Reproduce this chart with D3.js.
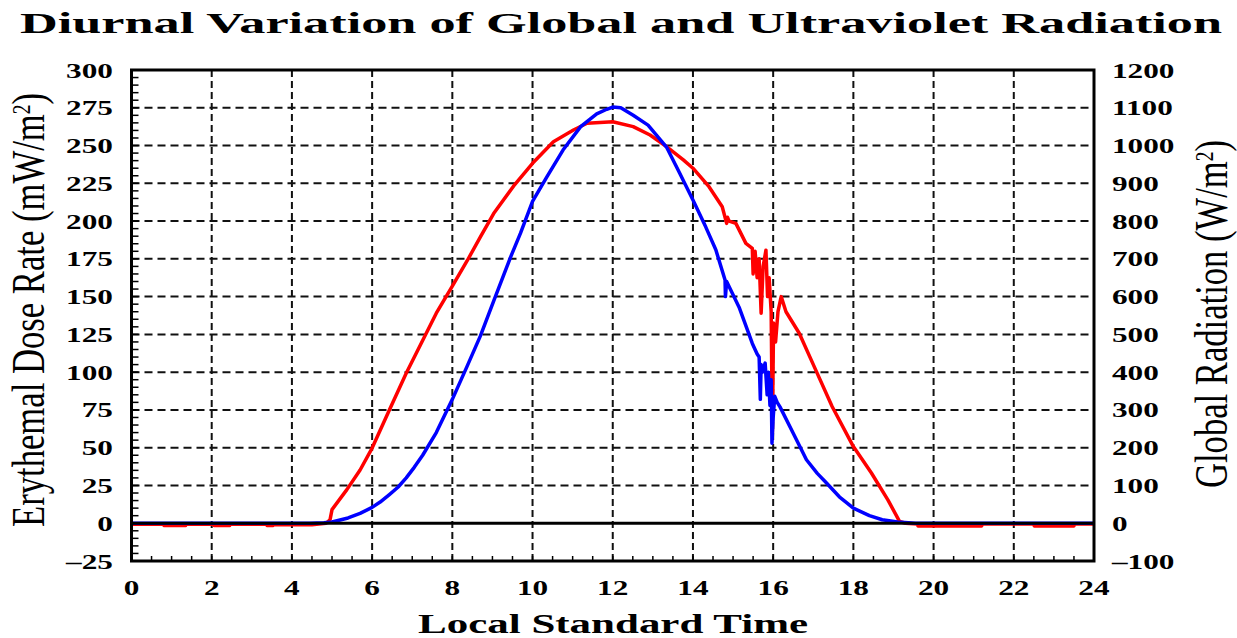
<!DOCTYPE html>
<html>
<head>
<meta charset="utf-8">
<script src="https://cdn.jsdelivr.net/npm/d3@7"></script>
<style>
body { margin: 0; background: #fff; }
text { font-family: "Liberation Serif", "Times New Roman", serif; fill: #000; }
</style>
</head>
<body>
<script>
// tick labels
var hourTicks = [0, 2, 4, 6, 8, 10, 12, 14, 16, 18, 20, 22, 24];
var uvTicks = [-25, 0, 25, 50, 75, 100, 125, 150, 175, 200, 225, 250, 275, 300];
var globalTicks = [-100, 0, 100, 200, 300, 400, 500, 600, 700, 800, 900, 1000, 1100, 1200];

// erythemal dose rate (mW/m2), blue, left axis
var uvHours = [0, 4.45, 4.8, 5.0, 5.4, 5.7, 6.0, 6.2, 6.43, 6.65, 6.85, 7.05, 7.26, 7.6, 8.0, 8.37, 8.7, 9.03, 9.45, 9.7,
    10.0, 10.35, 10.76, 11.2, 11.6, 11.85, 12.0, 12.2, 12.51, 12.88, 13.34, 13.67, 14.0, 14.32, 14.57,
    14.8, 14.81, 14.84, 15.15, 15.48, 15.6, 15.65, 15.68, 15.7, 15.73, 15.8, 15.85, 15.88, 15.92, 15.95,
    15.97, 16.0, 16.04, 16.1, 16.17, 16.5, 16.83, 17.1, 17.33, 17.65, 18.0, 18.4, 18.72, 19.1, 19.55, 24];
var uvValues = [0, 0, 0.3, 0.8, 3.5, 6.5, 10.5, 14, 19, 24, 30, 37, 45, 60, 82, 104, 124, 147, 176, 192,
    213, 229, 247, 262.5, 271, 274, 275.5, 275, 270, 263.5, 249, 231.6, 214, 196, 181,
    161, 150, 160, 143, 119, 112, 110, 82, 105, 100, 106, 85, 100, 78, 95,
    53, 70, 84, 80, 77, 59.6, 42, 33, 26.6, 17.5, 10, 5, 2.3, 0.8, 0, 0];

// global radiation (W/m2), red, right axis
var globalHours = [0, 0.8, 0.81, 1.35, 1.36, 2.05, 2.06, 2.45, 2.46, 3.37, 3.38, 3.53, 3.54, 4.5, 4.85,
    4.95, 5.0, 5.37, 5.7, 6.0, 6.43, 6.85, 7.35, 7.6, 8.0, 8.37, 8.7, 9.03, 9.53, 10.0, 10.52, 11.02,
    11.36, 12.0, 12.51, 12.93, 13.34, 13.76, 14.0, 14.4, 14.73, 14.84, 14.86, 14.9, 15.07, 15.32, 15.48,
    15.5, 15.55, 15.6, 15.65, 15.7, 15.75, 15.82, 15.86, 15.9, 15.95, 15.98, 16.01, 16.06, 16.12, 16.2,
    16.32, 16.65, 17.06, 17.47, 18.0, 18.45, 18.86, 19.15, 19.3, 19.6, 19.61, 21.2, 21.21, 22.5, 22.51,
    23.5, 23.51, 24];
var globalValues = [-3, -3, -6, -6, -3, -3, -6, -6, -3, -3, -6, -6, -4, -4, 0,
    9, 36, 89, 141, 199, 300, 397, 503, 556, 628, 695, 758, 820, 893, 953, 1010, 1041,
    1059, 1063, 1050, 1028, 997, 962, 940, 891, 838, 794, 810, 800, 794, 741, 728,
    660, 720, 650, 700, 556, 680, 723, 600, 650, 560, 239, 530, 480, 560, 600,
    560, 503, 406, 309, 203, 133, 62, 5, 0, -2, -7, -7, -2, -2, -7,
    -7, -2, -2];

window.onload = function(){
    var w = 1237, h = 638;
    var left = 131.5, right = 1094, top = 70, bottom = 561;
    var sx = 1.42; //the picture is stretched sideways

    var svg = d3.select("body").append("svg")
        .attr("width", w)
        .attr("height", h);

    var x = d3.scaleLinear().domain([0, 24]).range([left, right]);
    var yUv = d3.scaleLinear().domain([-25, 300]).range([bottom, top]);
    var yGlobal = d3.scaleLinear().domain([-100, 1200]).range([bottom, top]);

    function stretch(sel){
        sel.each(function(){
            var n = this.getComputedTextLength();
            d3.select(this).attr("textLength", n * sx).attr("lengthAdjust", "spacingAndGlyphs");
        });
    }

    //dashed grid
    svg.append("g").selectAll("line")
        .data(hourTicks.filter(function(d){ return d > 0 && d < 24; }))
        .enter().append("line")
        .attr("x1", function(d){ return x(d); })
        .attr("x2", function(d){ return x(d); })
        .attr("y1", top).attr("y2", bottom)
        .attr("stroke", "#111").attr("stroke-width", 2)
        .attr("stroke-dasharray", "7,4");

    svg.append("g").selectAll("line")
        .data(uvTicks.filter(function(d){ return d > -25 && d < 300 && d != 0; }))
        .enter().append("line")
        .attr("x1", left).attr("x2", right)
        .attr("y1", function(d){ return yUv(d); })
        .attr("y2", function(d){ return yUv(d); })
        .attr("stroke", "#111").attr("stroke-width", 2)
        .attr("stroke-dasharray", "8,5");

    //minor ticks, left and bottom
    var minorY = d3.range(-25, 301, 5);
    svg.append("g").selectAll("line")
        .data(minorY).enter().append("line")
        .attr("x1", left).attr("x2", left + 7)
        .attr("y1", function(d){ return yUv(d); })
        .attr("y2", function(d){ return yUv(d); })
        .attr("stroke", "#000").attr("stroke-width", 1.5);

    var minorX = d3.range(0, 24.01, 0.5);
    svg.append("g").selectAll("line")
        .data(minorX).enter().append("line")
        .attr("x1", function(d){ return x(d); })
        .attr("x2", function(d){ return x(d); })
        .attr("y1", bottom).attr("y2", bottom - 5)
        .attr("stroke", "#000").attr("stroke-width", 1.5);

    svg.append("defs").append("clipPath").attr("id", "plot")
        .append("rect")
        .attr("x", left).attr("y", top)
        .attr("width", right - left).attr("height", bottom - top);

    var plot = svg.append("g").attr("clip-path", "url(#plot)");

    var uvLine = d3.line()
        .x(function(d){ return x(uvHours[d]); })
        .y(function(d){ return yUv(uvValues[d]); });
    var globalLine = d3.line()
        .x(function(d){ return x(globalHours[d]); })
        .y(function(d){ return yGlobal(globalValues[d]); });

    plot.append("path")
        .datum(d3.range(globalHours.length))
        .attr("d", globalLine)
        .attr("fill", "none")
        .attr("stroke", "#ff0000")
        .attr("stroke-width", 3.5)
        .attr("stroke-linejoin", "round");

    plot.append("path")
        .datum(d3.range(uvHours.length))
        .attr("d", uvLine)
        .attr("fill", "none")
        .attr("stroke", "#0000ff")
        .attr("stroke-width", 3.5)
        .attr("stroke-linejoin", "round");

    //zero line
    svg.append("line")
        .attr("x1", left).attr("x2", right)
        .attr("y1", yUv(0)).attr("y2", yUv(0))
        .attr("stroke", "#000").attr("stroke-width", 3);

    //frame
    svg.append("rect")
        .attr("x", left).attr("y", top)
        .attr("width", right - left).attr("height", bottom - top)
        .attr("fill", "none")
        .attr("stroke", "#000").attr("stroke-width", 3);

    //tick labels
    var lab = svg.append("g")
        .style("font-size", "22px").style("font-weight", "bold");

    lab.selectAll(".yl").data(uvTicks).enter().append("text")
        .attr("class", "yl")
        .attr("x", 113)
        .attr("y", function(d){ return yUv(d) + 7.5; })
        .attr("text-anchor", "end")
        .text(function(d){ return d < 0 ? "\u2013" + (-d) : d; })
        .call(stretch);

    lab.selectAll(".yr").data(globalTicks).enter().append("text")
        .attr("class", "yr")
        .attr("x", 1112)
        .attr("y", function(d){ return yGlobal(d) + 7.5; })
        .attr("text-anchor", "start")
        .text(function(d){ return d < 0 ? "\u2013" + (-d) : d; })
        .call(stretch);

    lab.selectAll(".xl").data(hourTicks).enter().append("text")
        .attr("class", "xl")
        .attr("x", function(d){ return x(d); })
        .attr("y", 595)
        .attr("text-anchor", "middle")
        .text(function(d){ return d; })
        .call(stretch);

    //titles
    svg.append("text")
        .attr("x", 20).attr("y", 33)
        .style("font-size", "30px").style("font-weight", "bold")
        .attr("textLength", 1202).attr("lengthAdjust", "spacingAndGlyphs")
        .text("Diurnal Variation of Global and Ultraviolet Radiation");

    svg.append("text")
        .attr("x", 613).attr("y", 633)
        .attr("text-anchor", "middle")
        .style("font-size", "27px").style("font-weight", "bold")
        .attr("textLength", 390).attr("lengthAdjust", "spacingAndGlyphs")
        .text("Local Standard Time");

    var yTitleL = svg.append("text")
        .attr("transform", "translate(44,310) scale(" + sx + ",1) rotate(-90)")
        .attr("text-anchor", "middle")
        .style("font-size", "32px")
        .attr("textLength", 434).attr("lengthAdjust", "spacingAndGlyphs");
    yTitleL.append("tspan").text("Erythemal Dose Rate (mW/m");
    yTitleL.append("tspan").attr("baseline-shift", "super").style("font-size", "18px").text("2");
    yTitleL.append("tspan").text(")");

    var yTitleR = svg.append("text")
        .attr("transform", "translate(1227,314) scale(" + sx + ",1) rotate(-90)")
        .attr("text-anchor", "middle")
        .style("font-size", "32px")
        .attr("textLength", 348).attr("lengthAdjust", "spacingAndGlyphs");
    yTitleR.append("tspan").text("Global Radiation (W/m");
    yTitleR.append("tspan").attr("baseline-shift", "super").style("font-size", "18px").text("2");
    yTitleR.append("tspan").text(")");
};
</script>
</body>
</html>
